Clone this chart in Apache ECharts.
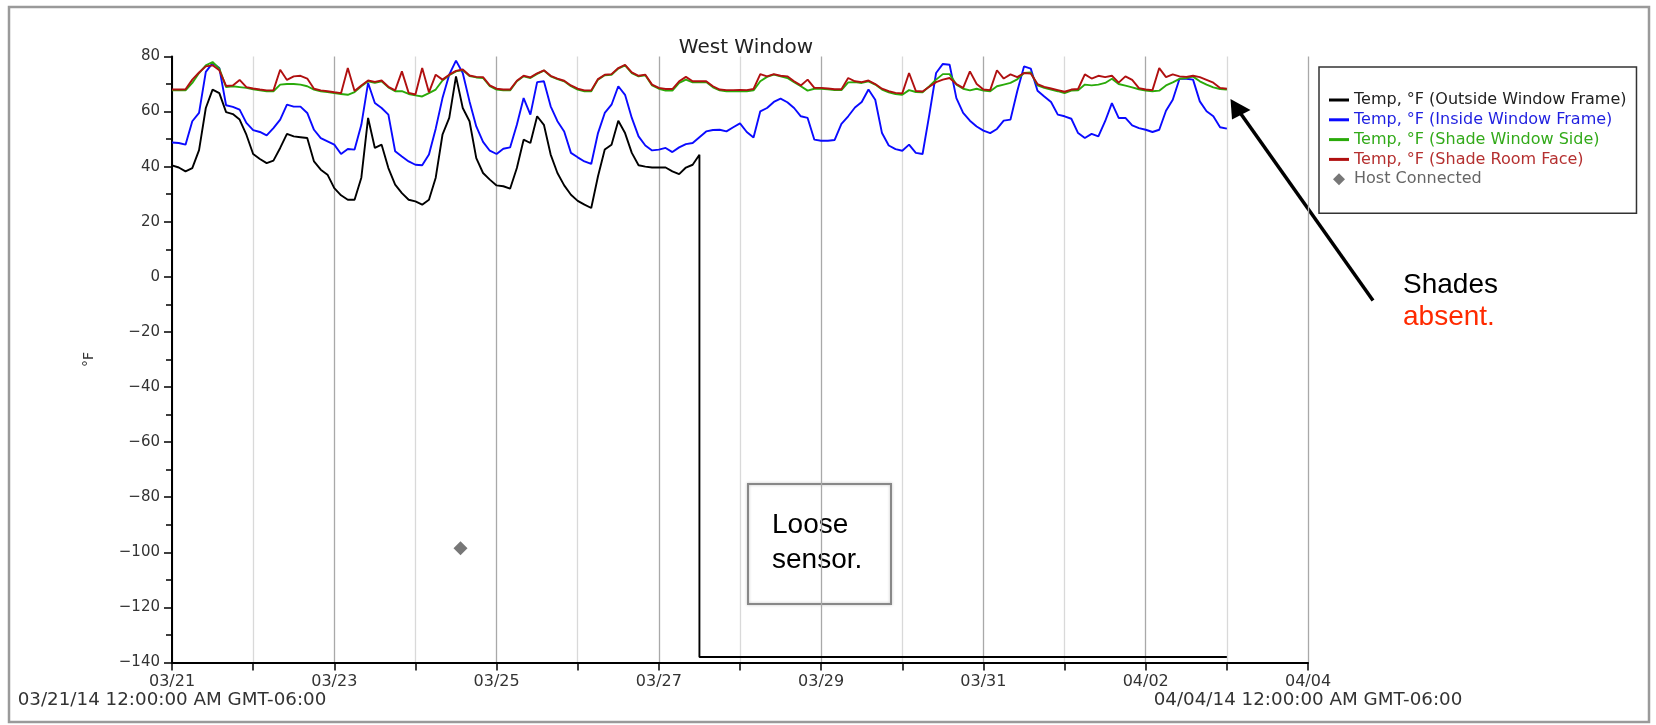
<!DOCTYPE html>
<html>
<head>
<meta charset="utf-8">
<script src="https://cdn.jsdelivr.net/npm/echarts@6/dist/echarts.min.js"></script>
<style>
html,body{margin:0;padding:0;background:#fff;}
#chart{width:1656px;height:725px;}
</style>
</head>
<body>
<div id="chart"></div>
<script>
// ---------- DATA ----------
const START = Date.UTC(2014, 2, 21);   // 03/21/14 12:00:00 AM
const END = Date.UTC(2014, 3, 4);      // 04/04/14 12:00:00 AM
const DAY = 86400000;
const STEP = 2 * 3600000;              // one reading every 2 hours

const seriesNames = [
  'Temp, °F (Outside Window Frame)',
  'Temp, °F (Inside Window Frame)',
  'Temp, °F (Shade Window Side)',
  'Temp, °F (Shade Room Face)',
  'Host Connected'
];

// Outside window frame (readings until the sensor came loose)
const outsideFrame = [
  40.5,39.7,38.3,39.5,46.0,61.3,68.0,66.7,59.8,59.1,57.1,51.6,44.6,42.8,41.3,42.2,46.8,51.9,51.0,50.7,
  50.4,41.9,38.9,37.1,32.2,29.6,28.0,28.0,36.0,57.7,46.8,48.0,39.5,33.5,30.4,28.0,27.4,26.2,28.0,36.0,
  51.6,57.7,72.8,61.3,56.5,43.1,37.7,35.3,33.2,32.9,32.0,39.5,49.8,48.6,58.3,55.2,44.4,37.7,33.2,29.8,
  27.6,26.2,25.0,36.5,46.2,48.0,56.7,52.2,45.0,40.5,40.0,39.7,39.7,39.7,38.3,37.3,39.7,40.7,44.3
];
const looseSensorValue = -138;   // reading after the sensor came loose
const looseSensorLastIndex = 156; // readings continue to 04/03

const insideFrame = [
  48.8,48.6,48.0,56.5,59.5,74.4,77.6,75.8,62.3,61.7,60.7,55.9,53.3,52.6,51.4,54.0,57.1,62.5,61.8,61.8,
  59.5,53.4,50.4,49.2,48.0,44.6,46.4,46.2,55.2,70.4,63.1,61.3,58.9,45.6,43.7,41.9,40.7,40.5,44.4,53.8,
  64.9,73.4,78.5,74.0,63.7,54.6,49.0,45.8,44.6,46.5,47.0,55.2,64.9,58.9,70.7,71.0,61.9,56.5,52.8,45.0,
  43.4,41.9,41.0,52.2,59.5,62.5,69.2,66.1,57.7,51.0,47.7,45.9,46.2,46.8,45.3,47.0,48.2,48.6,50.7,
  52.8,53.3,53.4,52.8,54.3,55.7,52.6,50.6,60.1,61.3,63.5,64.7,63.4,61.3,58.3,57.7,49.8,49.4,49.4,49.7,
  55.5,58.3,61.5,63.5,68.0,64.3,52.2,47.7,46.4,45.8,48.0,45.0,44.6,58.9,74.0,77.3,77.0,64.9,59.5,56.7,
  54.6,53.1,52.2,53.7,56.7,57.1,67.4,76.4,75.6,67.6,65.5,63.5,58.9,58.3,57.4,52.2,50.4,51.9,51.0,56.5,
  63.1,57.7,57.7,55.0,54.0,53.4,52.6,53.4,60.3,64.3,71.9,71.9,71.6,63.7,60.1,58.3,54.3,53.8
];

const shadeWindowSide = [
  67.7,67.7,67.7,70.4,74.0,76.8,78.0,75.6,68.9,69.2,68.9,68.6,68.1,67.7,67.4,67.4,69.8,70.0,70.0,69.8,
  69.2,68.0,67.4,67.1,66.7,66.4,66.1,67.1,69.2,71.0,70.4,71.0,68.8,67.4,67.4,66.4,65.9,65.5,66.7,68.0,
  71.3,73.2,74.6,75.1,72.9,72.4,72.2,69.2,68.0,67.7,67.7,71.0,72.8,72.2,73.7,74.9,72.8,71.8,71.0,69.2,
  68.0,67.4,67.4,71.6,73.2,73.4,75.6,76.8,74.0,72.8,73.2,69.5,68.3,67.6,67.6,70.4,71.6,70.6,70.6,
  70.7,68.8,67.7,67.4,67.4,67.4,67.4,67.7,71.0,72.6,73.4,72.8,72.2,70.7,69.2,67.6,68.3,68.3,68.1,67.8,
  67.8,70.6,70.7,70.4,71.0,69.8,68.0,67.0,66.4,66.1,67.8,67.1,67.0,69.2,71.6,73.6,73.6,69.8,68.3,67.7,
  68.3,67.6,67.4,69.2,69.8,70.4,71.7,74.0,74.2,69.5,68.6,68.0,67.4,66.7,67.6,67.7,69.8,69.5,69.8,70.4,
  71.9,70.0,69.4,68.8,68.1,67.6,67.4,67.6,69.5,70.6,71.9,72.2,72.7,71.0,69.8,68.8,68.2,68.0
];

const shadeRoomFace = [
  68.0,68.0,68.1,71.6,74.2,76.4,76.8,75.0,69.3,69.5,71.5,68.9,68.4,68.0,67.7,67.7,75.2,71.5,72.8,73.0,
  72.0,68.3,67.7,67.4,67.0,66.7,75.8,67.5,69.5,71.3,70.8,71.3,69.0,67.7,74.6,66.8,66.2,75.8,67.0,73.4,
  71.6,73.4,74.8,75.3,73.1,72.6,72.5,69.5,68.3,68.0,68.0,71.2,73.0,72.4,73.9,75.0,73.0,72.0,71.2,69.5,
  68.3,67.7,67.7,71.8,73.4,73.6,75.8,77.0,74.2,73.0,73.4,69.8,68.6,68.2,68.2,71.0,72.6,71.0,71.0,
  71.0,69.2,68.0,67.8,67.8,67.9,67.8,68.2,73.6,72.8,73.6,73.0,72.8,71.0,69.5,71.6,68.6,68.6,68.4,68.1,
  68.1,72.2,71.0,70.7,71.3,70.0,68.3,67.4,66.8,66.6,74.0,67.5,67.3,69.0,70.7,71.6,72.2,70.0,68.6,74.6,
  70.0,68.0,67.8,75.0,72.0,73.5,72.5,74.0,73.8,70.0,69.0,68.4,67.8,67.2,68.0,68.2,73.5,72.0,73.0,72.5,
  73.0,70.5,72.8,71.5,68.5,68.0,67.8,75.8,72.5,73.5,72.8,72.6,73.0,72.5,71.5,70.5,68.6,68.3
];

const hostConnectedTimes = [Date.UTC(2014, 2, 24, 13, 20)];
const hostConnectedValues = [-98.5];

const yMin = -140, yMax = 80, yStep = 20;

// ---------- HELPERS ----------
const pad = n => (n < 10 ? '0' : '') + n;
const dayLabel = v => { const d = new Date(v); return pad(d.getUTCMonth() + 1) + '/' + pad(d.getUTCDate()); };
const stampLabel = v => { const d = new Date(v); return dayLabel(v) + '/' + pad(d.getUTCFullYear() % 100) + ' 12:00:00 AM GMT-06:00'; };
const toPairs = arr => arr.map((v, i) => [START + i * STEP, v]);

const outsidePairs = toPairs(outsideFrame);
const lastT = outsidePairs[outsidePairs.length - 1][0];
outsidePairs.push([lastT, looseSensorValue]);
outsidePairs.push([START + looseSensorLastIndex * STEP, looseSensorValue]);

const FONT = 'DejaVu Sans';
const colors = ['#000000', '#0a0aff', '#2aaa0a', '#b01010', '#555555'];
const textColors = ['#222222', '#1f1fe0', '#33aa1a', '#b53030', '#666666'];
const LINE_ICON = 'path://M0,0H20V3H0Z';
const DIAMOND_ICON = 'path://M6,0L12,6L6,12L0,6Z';

const chart = echarts.init(document.getElementById('chart'), null, {renderer: 'canvas'});

const lineSeries = (name, data, color) => ({
  name, type: 'line', data, showSymbol: false, symbol: 'none',
  lineStyle: {color, width: 1.9}, itemStyle: {color}, animation: false, silent: true
});

chart.setOption({
  animation: false,
  backgroundColor: '#ffffff',
  title: {
    text: 'West Window', left: 741, top: 33, textAlign: 'center',
    textStyle: {fontFamily: FONT, fontSize: 20, fontWeight: 'normal', color: '#222'}
  },
  grid: {left: 172, top: 56.5, width: 1136, height: 606, containLabel: false, outerBoundsMode: 'none'},
  legend: {
    orient: 'vertical', left: 1319, top: 67,
    padding: [25, 10, 26, 10], itemGap: 3.8, itemWidth: 20, itemHeight: 12,
    borderColor: '#333', borderWidth: 1.5, backgroundColor: '#fff',
    symbolKeepAspect: true,
    itemStyle: {borderWidth: 0},
    textStyle: {fontFamily: FONT, fontSize: 16},
    selectedMode: false,
    data: seriesNames.map((n, i) => ({
      name: n, icon: i === 4 ? DIAMOND_ICON : LINE_ICON, textStyle: {color: textColors[i]}
    }))
  },
  xAxis: {
    type: 'value', min: START, max: END, interval: DAY,
    axisLine: {show: true, onZero: false, lineStyle: {color: '#000', width: 2}},
    axisTick: {show: true, length: 8, lineStyle: {color: '#000', width: 1.5}},
    axisLabel: {
      margin: 10, fontFamily: FONT, fontSize: 16, color: '#333', lineHeight: 18, align: 'center',
      rich: {
        d: {fontFamily: FONT, fontSize: 16, color: '#333', lineHeight: 18},
        s: {fontFamily: FONT, fontSize: 18.3, color: '#333', lineHeight: 19}
      },
      formatter: v => {
        const k = Math.round((v - START) / DAY);
        if (k % 2) return '';
        let s = '{d|' + dayLabel(v) + '}';
        if (v === START || v === END) s += '\n{s|' + stampLabel(v) + '}';
        return s;
      }
    },
    splitLine: {show: true, lineStyle: {color: ['#a9a9a9', '#d9d9d9'], width: 1.3}}
  },
  yAxis: {
    type: 'value', min: yMin, max: yMax, interval: yStep,
    name: '°F', nameLocation: 'middle', nameGap: 76, nameRotate: 90,
    nameTextStyle: {fontFamily: FONT, fontSize: 14, color: '#333'},
    axisLine: {show: true, onZero: false, lineStyle: {color: '#000', width: 2}},
    axisTick: {show: true, length: 8, lineStyle: {color: '#000', width: 1.5}},
    minorTick: {show: true, splitNumber: 2, length: 6, lineStyle: {color: '#000', width: 1.5}},
    axisLabel: {
      margin: 12, fontFamily: FONT, fontSize: 15, color: '#333',
      formatter: v => String(v).replace('-', '\u2212')
    },
    splitLine: {show: false}
  },
  series: [
    lineSeries(seriesNames[0], outsidePairs, colors[0]),
    lineSeries(seriesNames[1], toPairs(insideFrame), colors[1]),
    lineSeries(seriesNames[2], toPairs(shadeWindowSide), colors[2]),
    lineSeries(seriesNames[3], toPairs(shadeRoomFace), colors[3]),
    {
      name: seriesNames[4], type: 'scatter', symbol: 'diamond', symbolSize: 14,
      itemStyle: {color: colors[4]}, silent: true,
      data: hostConnectedTimes.map((t, i) => [t, hostConnectedValues[i]])
    }
  ],
  graphic: [
    // outer frame
    {type: 'rect', shape: {x: 9, y: 7, width: 1640, height: 715},
     style: {fill: 'none', stroke: '#9a9a9a', lineWidth: 2.5}, silent: true},
    // loose sensor note
    {type: 'rect', shape: {x: 748, y: 484, width: 143, height: 120},
     style: {fill: 'none', stroke: '#888', lineWidth: 2,
             shadowBlur: 3, shadowColor: 'rgba(0,0,0,0.25)'}, silent: true},
    {type: 'text', x: 772, y: 525, silent: true,
     style: {text: 'Loose', fill: '#000', font: '28px "Liberation Sans"', textAlign: 'left', align: 'left', textVerticalAlign: 'middle', verticalAlign: 'middle'}},
    {type: 'text', x: 772, y: 560, silent: true,
     style: {text: 'sensor.', fill: '#000', font: '28px "Liberation Sans"', textAlign: 'left', align: 'left', textVerticalAlign: 'middle', verticalAlign: 'middle'}},
    // arrow
    {type: 'line', shape: {x1: 1373, y1: 300.5, x2: 1241, y2: 114},
     style: {stroke: '#000', lineWidth: 3.5}, silent: true},
    {type: 'polygon', shape: {points: [[1230.5, 99], [1250.5, 110], [1232, 119.5]]},
     style: {fill: '#000'}, silent: true},
    {type: 'text', x: 1403, y: 285, silent: true,
     style: {text: 'Shades', fill: '#000', font: '28px "Liberation Sans"', textAlign: 'left', align: 'left', textVerticalAlign: 'middle', verticalAlign: 'middle'}},
    {type: 'text', x: 1403, y: 317, silent: true,
     style: {text: 'absent.', fill: '#ff2a00', font: '28px "Liberation Sans"', textAlign: 'left', align: 'left', textVerticalAlign: 'middle', verticalAlign: 'middle'}}
  ]
});
</script>
</body>
</html>
